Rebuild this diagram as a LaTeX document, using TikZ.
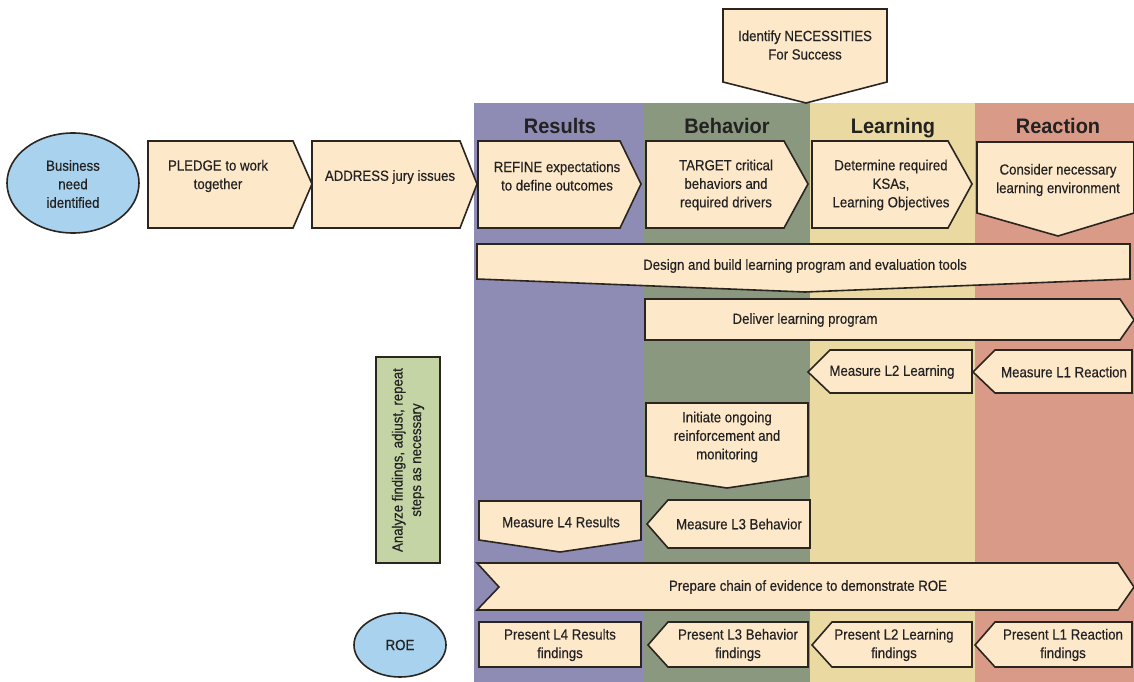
\documentclass[tikz,border=0pt]{standalone}
\usepackage{fontspec}
\setmainfont{Liberation Sans}[FakeStretch=0.9,FakeBold=0.4]
\newfontfamily\hdfont{Liberation Sans}[FakeStretch=0.95]
\definecolor{colRes}{HTML}{8E8BB5}
\definecolor{colBeh}{HTML}{8A9880}
\definecolor{colLea}{HTML}{EBD9A2}
\definecolor{colRea}{HTML}{DA9A88}
\definecolor{boxfill}{HTML}{FDE8CA}
\definecolor{ellfill}{HTML}{A8D2EE}
\definecolor{anafill}{HTML}{C4D4A4}
\definecolor{edge}{HTML}{2B2520}
\definecolor{txtcol}{HTML}{222222}
\tikzset{
  box/.style={fill=boxfill, draw=edge, line width=1.6pt, line join=miter},
  ell/.style={fill=ellfill, draw=edge, line width=1.6pt},
  txt/.style={align=center, font=\fontsize{14.7}{18.5}\selectfont, text=txtcol, inner sep=0pt},
  hdr/.style={font=\hdfont\bfseries\fontsize{21}{24}\selectfont, text=txtcol, inner sep=0pt, anchor=base}
}
\begin{document}
\begin{tikzpicture}[x=1pt,y=-1pt]
\path[use as bounding box, fill=white] (0,0) rectangle (1134,682);
% columns
\fill[colRes] (474,103) rectangle (643,682);
\fill[colBeh] (643,103) rectangle (810,682);
\fill[colLea] (810,103) rectangle (975,682);
\fill[colRea] (975,103) rectangle (1134,682);
\node[hdr] (hres) at (560,133) {Results};
\node[hdr] (hbeh) at (727,133) {Behavior};
\node[hdr] (hlea) at (893,133) {Learning};
\node[hdr] (hrea) at (1058,133) {Reaction};
% necessities
\draw[box] (723,9) -- (887,9) -- (887,82) -- (806,103) -- (723,82) -- cycle;
\node[txt] (nec) at (805,45) {Identify NECESSITIES\\For Success};
% row 1
\draw[ell] (73,183) ellipse [x radius=66, y radius=50];
\node[txt] (bus) at (73,184) {Business\\need\\identified};
\draw[box] (148,141) -- (293,141) -- (312,184) -- (293,228) -- (148,228) -- cycle;
\node[txt] (pledge) at (218,176) {PLEDGE to work\\together};
\draw[box] (312,141) -- (460,141) -- (477,184) -- (460,228) -- (312,228) -- cycle;
\node[txt] (address) at (390,177) {ADDRESS jury issues};
\draw[box] (478,141) -- (620,141) -- (641,184) -- (620,228) -- (478,228) -- cycle;
\node[txt] (refine) at (557,176) {REFINE expectations\\to define outcomes};
\draw[box] (646,141) -- (784,141) -- (808,184) -- (784,228) -- (646,228) -- cycle;
\node[txt] (target) at (726,185) {TARGET critical\\behaviors and\\required drivers};
\draw[box] (812,141) -- (948,141) -- (972,184) -- (948,228) -- (812,228) -- cycle;
\node[txt] (determ) at (891,185) {Determine required\\KSAs,\\Learning Objectives};
\draw[box] (977,142) -- (1134,142) -- (1134,213) -- (1058,236) -- (977,213) -- cycle;
\node[txt] (consider) at (1058,180) {Consider necessary\\learning environment};
% design bar
\draw[box] (477,244) -- (1130,244) -- (1130,279) -- (805,292) -- (477,279) -- cycle;
\node[txt] (design) at (805,266) {Design and build learning program and evaluation tools};
% deliver
\draw[box] (645,299) -- (1120,299) -- (1134,320) -- (1120,340) -- (645,340) -- cycle;
\node[txt] (deliver) at (805,320) {Deliver learning program};
% measure L2 / L1
\draw[box] (830,350) -- (972,350) -- (972,393) -- (830,393) -- (808,372) -- cycle;
\node[txt] (ml2) at (892,372) {Measure L2 Learning};
\draw[box] (995,350) -- (1132,350) -- (1132,393) -- (995,393) -- (973,372) -- cycle;
\node[txt] (ml1) at (1064,372) {Measure L1 Reaction};
% initiate
\draw[box] (646,403) -- (808,403) -- (808,476) -- (727,488) -- (646,476) -- cycle;
\node[txt] (init) at (727,437) {Initiate ongoing\\reinforcement and\\monitoring};
% measure L3 / L4
\draw[box] (668,500) -- (810,500) -- (810,548) -- (668,548) -- (647,524) -- cycle;
\node[txt] (ml3) at (739,524) {Measure L3 Behavior};
\draw[box] (479,501) -- (641,501) -- (641,540) -- (560,552) -- (479,540) -- cycle;
\node[txt] (ml4) at (561,522) {Measure L4 Results};
% analyze
\draw[fill=anafill, draw=edge, line width=1.4pt] (376,357) rectangle (440,563);
\node[txt, rotate=90] (analyze) at (408,460) {Analyze findings, adjust, repeat\\steps as necessary};
% prepare
\draw[box] (477,563) -- (1118,563) -- (1134,587) -- (1118,610) -- (477,610) -- (499,587) -- cycle;
\node[txt] (prepare) at (808,587) {Prepare chain of evidence to demonstrate ROE};
% bottom row
\draw[ell] (400,645) ellipse [x radius=46, y radius=32];
\node[txt] (roe) at (400,645) {ROE};
\draw[box] (479,622) rectangle (641,667);
\node[txt] (pl4) at (560,645) {Present L4 Results\\findings};
\draw[box] (668,622) -- (808,622) -- (808,667) -- (668,667) -- (648,645) -- cycle;
\node[txt] (pl3) at (738,645) {Present L3 Behavior\\findings};
\draw[box] (832,622) -- (972,622) -- (972,667) -- (832,667) -- (812,645) -- cycle;
\node[txt] (pl2) at (894,645) {Present L2 Learning\\findings};
\draw[box] (995,622) -- (1132,622) -- (1132,667) -- (995,667) -- (975,645) -- cycle;
\node[txt] (pl1) at (1063,645) {Present L1 Reaction\\findings};
\end{tikzpicture}
\end{document}
